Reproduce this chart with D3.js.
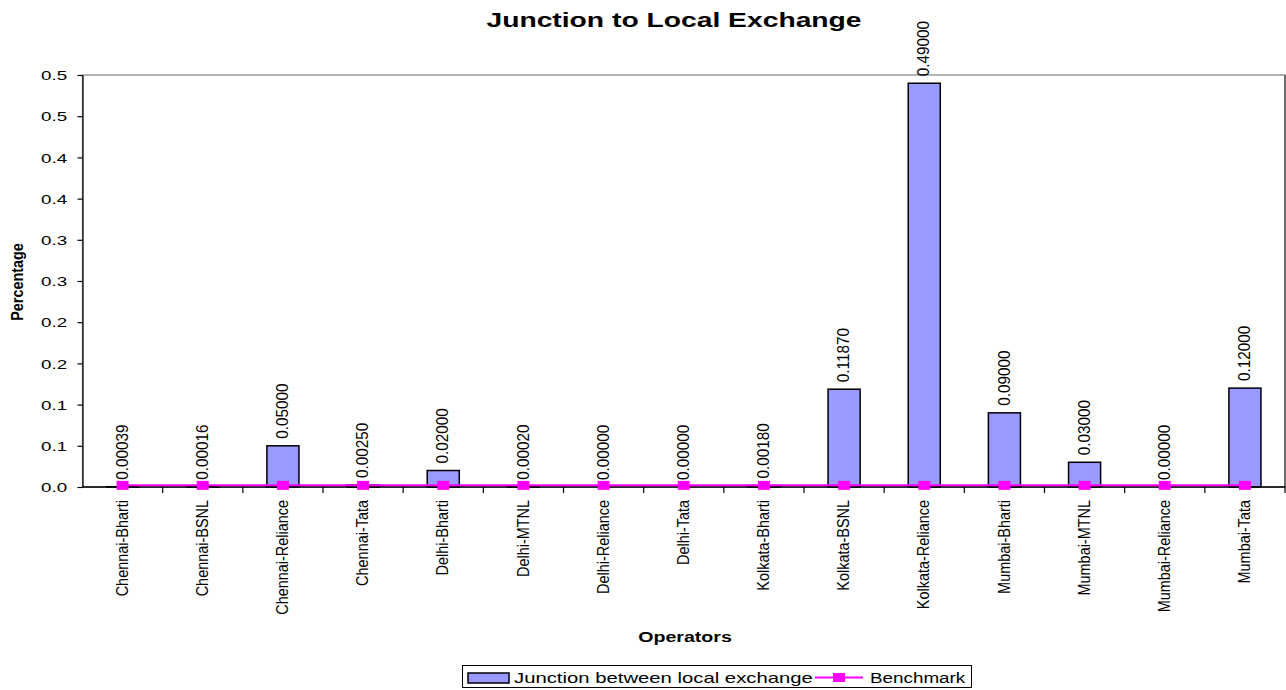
<!DOCTYPE html>
<html>
<head>
<meta charset="utf-8">
<script src="https://cdn.jsdelivr.net/npm/d3@7"></script>
<style>
  html, body { margin: 0; padding: 0; background: #ffffff; }
  svg { display: block; }
  text { font-family: "Liberation Sans", Arial, Helvetica, sans-serif; fill: #000; }
</style>
</head>
<body>
<svg id="chart" width="1286" height="690"></svg>
<script>
// ---------- data ----------
const categories = [
  "Chennai-Bharti", "Chennai-BSNL", "Chennai-Reliance", "Chennai-Tata",
  "Delhi-Bharti", "Delhi-MTNL", "Delhi-Reliance", "Delhi-Tata",
  "Kolkata-Bharti", "Kolkata-BSNL", "Kolkata-Reliance",
  "Mumbai-Bharti", "Mumbai-MTNL", "Mumbai-Reliance", "Mumbai-Tata"
];
const junctionValues = [
  0.00039, 0.00016, 0.05, 0.0025,
  0.02, 0.0002, 0, 0,
  0.0018, 0.1187, 0.49,
  0.09, 0.03, 0, 0.12
];
const benchmarkValues = [
  0.002, 0.002, 0.002, 0.002,
  0.002, 0.002, 0.002, 0.002,
  0.002, 0.002, 0.002,
  0.002, 0.002, 0.002, 0.002
];
const yTickValues = [0, 0.05, 0.1, 0.15, 0.2, 0.25, 0.3, 0.35, 0.4, 0.45, 0.5];
const yTickLabels = ["0.0", "0.1", "0.1", "0.2", "0.2", "0.3", "0.3", "0.4", "0.4", "0.5", "0.5"];
const seriesNames = ["Junction between local exchange", "Benchmark"];
const chartTitle = "Junction to Local Exchange";
const xTitle = "Operators";
const yTitle = "Percentage";

// ---------- layout ----------
const plot = { left: 82.5, right: 1285, top: 75, bottom: 487 };
const barColor = "#9999FF";
const benchColor = "#FF00FF";

const svg = d3.select("#chart");

const xCat = d3.scaleBand().domain(categories).range([plot.left, plot.right]).padding(0);
const xBar = d3.scaleBand().domain(categories).range([plot.left, plot.right])
  .paddingInner(0.6).paddingOuter(0.3);
const y = d3.scaleLinear().domain([0, 0.5]).range([plot.bottom, plot.top]);
const fmt = d3.format(".5f");

// plot area border
svg.append("rect")
  .attr("x", plot.left).attr("y", plot.top)
  .attr("width", plot.right - plot.left).attr("height", plot.bottom - plot.top)
  .attr("fill", "none").attr("stroke", "#808080").attr("stroke-width", 1.2);
svg.append("line")
  .attr("x1", plot.right).attr("x2", plot.right)
  .attr("y1", plot.top).attr("y2", plot.bottom)
  .attr("stroke", "#404040").attr("stroke-width", 1.2);

// bars
svg.append("g").selectAll("rect")
  .data(categories)
  .join("rect")
  .attr("x", d => xBar(d))
  .attr("width", xBar.bandwidth())
  .attr("y", (d, i) => y(junctionValues[i]))
  .attr("height", (d, i) => y(0) - y(junctionValues[i]))
  .attr("fill", barColor)
  .attr("stroke", "#000")
  .attr("stroke-width", 1.5);

// value labels (rotated)
svg.append("g").selectAll("text")
  .data(categories)
  .join("text")
  .attr("transform", (d, i) => `translate(${xCat(d) + xCat.bandwidth() / 2},${y(junctionValues[i]) - 7}) rotate(-90) scale(0.9,1)`)
  .attr("dy", "0.3em")
  .attr("text-anchor", "start")
  .style("font-size", "17px")
  .text((d, i) => fmt(junctionValues[i]));

// y axis
const yAxis = svg.append("g")
  .attr("transform", `translate(${plot.left},0)`)
  .call(d3.axisLeft(y).tickValues(yTickValues).tickFormat((d, i) => yTickLabels[i]).tickSize(5).tickSizeOuter(0));
yAxis.select(".domain").attr("stroke", "#000").attr("stroke-width", 1.2);
yAxis.selectAll(".tick line").attr("stroke", "#000").attr("stroke-width", 1.2);
yAxis.selectAll(".tick text")
  .attr("x", -10.3)
  .attr("dy", "0.38em")
  .attr("transform", "scale(1.5,1)")
  .attr("font-family", null)
  .attr("font-size", null)
  .style("font-size", "12.5px");

// x axis line and tick marks at category boundaries
const xAxisG = svg.append("g");
xAxisG.append("line")
  .attr("x1", plot.left).attr("x2", plot.right)
  .attr("y1", plot.bottom).attr("y2", plot.bottom)
  .attr("stroke", "#000").attr("stroke-width", 1.5);
xAxisG.selectAll("line.tk")
  .data(categories)
  .join("line")
  .attr("class", "tk")
  .attr("x1", d => xCat(d) + xCat.bandwidth()).attr("x2", d => xCat(d) + xCat.bandwidth())
  .attr("y1", plot.bottom).attr("y2", plot.bottom + 6)
  .attr("stroke", "#000").attr("stroke-width", 1.2);
xAxisG.selectAll("text")
  .data(categories)
  .join("text")
  .attr("transform", d => `translate(${xCat(d) + xCat.bandwidth() / 2},500) rotate(-90) scale(0.85,1)`)
  .attr("dy", "0.3em")
  .attr("text-anchor", "end")
  .style("font-size", "17px")
  .text(d => d);

// benchmark line + markers
const line = d3.line()
  .x((d, i) => xCat(categories[i]) + xCat.bandwidth() / 2)
  .y(d => y(d));
svg.append("path")
  .datum(benchmarkValues)
  .attr("d", line)
  .attr("fill", "none")
  .attr("stroke", benchColor)
  .attr("stroke-width", 2);
svg.append("g").selectAll("rect")
  .data(benchmarkValues)
  .join("rect")
  .attr("x", (d, i) => xCat(categories[i]) + xCat.bandwidth() / 2 - 6)
  .attr("y", d => y(d) - 4.5)
  .attr("width", 12).attr("height", 9)
  .attr("fill", benchColor);

// title
svg.append("text")
  .attr("transform", "translate(674,27) scale(1.45,1)")
  .attr("text-anchor", "middle")
  .style("font-size", "19.5px").style("font-weight", "bold")
  .text(chartTitle);

// axis titles
svg.append("text")
  .attr("transform", "translate(685,642) scale(1.4,1)")
  .attr("text-anchor", "middle")
  .style("font-size", "14px").style("font-weight", "bold")
  .text(xTitle);
svg.append("text")
  .attr("transform", "translate(23,282) rotate(-90) scale(0.9,1)")
  .attr("text-anchor", "middle")
  .style("font-size", "16px").style("font-weight", "bold")
  .text(yTitle);

// legend
const lg = svg.append("g");
lg.append("rect")
  .attr("x", 462.5).attr("y", 665.5).attr("width", 509).attr("height", 22)
  .attr("fill", "#fff").attr("stroke", "#000").attr("stroke-width", 1);
lg.append("rect")
  .attr("x", 468).attr("y", 673).attr("width", 41).attr("height", 10)
  .attr("fill", barColor).attr("stroke", "#000").attr("stroke-width", 1.5);
lg.append("text")
  .attr("transform", "translate(514,682.5) scale(1.4,1)")
  .style("font-size", "14.5px")
  .text(seriesNames[0]);
lg.append("line")
  .attr("x1", 815).attr("x2", 863).attr("y1", 677.5).attr("y2", 677.5)
  .attr("stroke", benchColor).attr("stroke-width", 2);
lg.append("rect")
  .attr("x", 833).attr("y", 673).attr("width", 12).attr("height", 9)
  .attr("fill", benchColor);
lg.append("text")
  .attr("transform", "translate(870,682.5) scale(1.3,1)")
  .style("font-size", "14.5px")
  .text(seriesNames[1]);
</script>
</body>
</html>
